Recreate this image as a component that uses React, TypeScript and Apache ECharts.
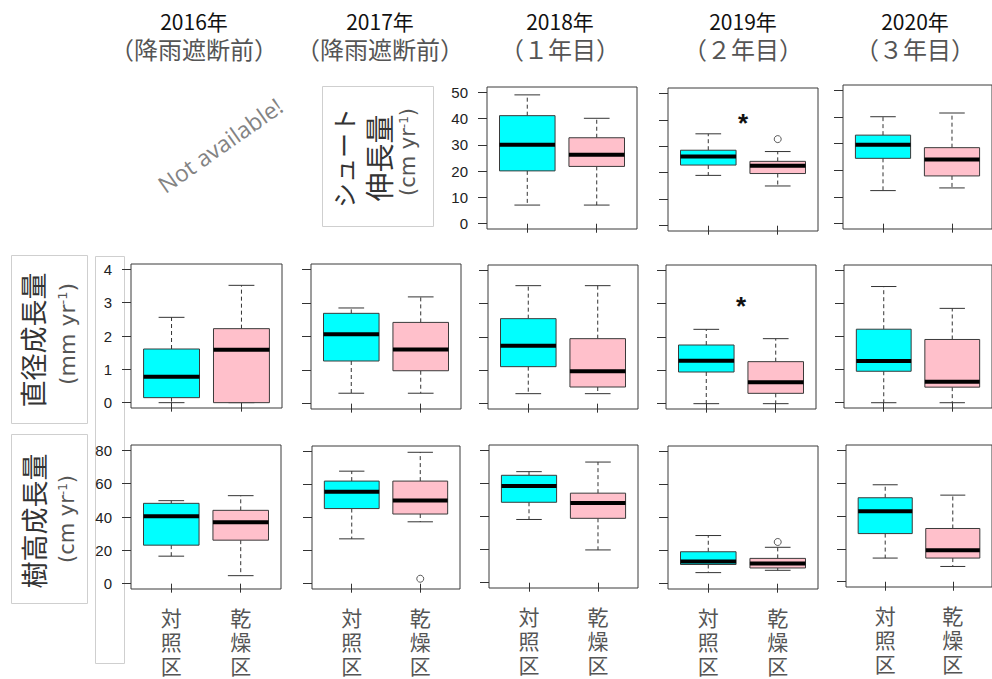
import React, { useEffect, useRef } from "react";
import * as echarts from "echarts";

// ---- categories / labels ----
const years = ["2016年", "2017年", "2018年", "2019年", "2020年"];
const phases = ["（降雨遮断前）", "（降雨遮断前）", "（１年目）", "（２年目）", "（３年目）"];
const groups = ["対照区", "乾燥区"];

// ---- box statistics per year: [lower whisker, Q1, median, Q3, upper whisker] ----
const shootControl = [null, null, [7.1, 20.1, 30.0, 41.1, 49.0], [19.0, 22.9, 26.1, 28.5, 34.7], [12.4, 24.5, 29.6, 33.2, 40.1]];
const shootDry = [null, null, [7.1, 21.8, 26.2, 32.7, 40.1], [15.0, 19.7, 22.6, 24.3, 28.0], [13.4, 17.9, 24.1, 28.5, 41.5]];
const diameterControl = [[0.0, 0.15, 0.78, 1.61, 2.56], [0.31, 1.27, 2.07, 2.69, 2.85], [0.30, 1.11, 1.74, 2.55, 3.54], [0.0, 0.95, 1.29, 1.76, 2.23], [0.0, 0.95, 1.26, 2.22, 3.51]];
const diameterDry = [[0.0, 0.0, 1.59, 2.22, 3.52], [0.31, 0.98, 1.61, 2.42, 3.18], [0.30, 0.50, 0.97, 1.95, 3.54], [0.0, 0.31, 0.64, 1.26, 1.95], [0.0, 0.47, 0.63, 1.91, 2.85]];
const heightControl = [[16.5, 23.1, 40.4, 48.2, 49.8], [27.1, 45.4, 55.6, 62.0, 68.0], [38.2, 48.6, 58.5, 64.9, 67.1], [6.7, 11.6, 13.4, 19.3, 29.1], [14.4, 29.3, 42.9, 51.1, 59.0]];
const heightDry = [[4.8, 26.1, 36.8, 44.0, 52.8], [37.4, 42.1, 50.3, 62.0, 79.4], [19.8, 38.9, 48.1, 54.1, 72.9], [8.1, 9.5, 12.2, 15.3, 22.0], [9.3, 14.4, 19.1, 32.4, 52.7]];

// ---- outliers (dry plots) ----
const shootDryOutliers = [[], [], [], [32.7], []];
const diameterDryOutliers = [[], [], [], [], []];
const heightDryOutliers = [[], [3.0], [], [25.2], []];

// ---- significance asterisks (y value) ----
const shootSignificance = [null, null, null, 41, null];
const diameterSignificance = [null, null, null, 3.1, null];
const heightSignificance = [null, null, null, null, null];

// ---- tick labels ----
const shootTicks = [0, 10, 20, 30, 40, 50];
const diameterTicks = [0, 1, 2, 3, 4];
const heightTicks = [0, 20, 40, 60, 80];

// ---- layout (pixels) ----
const panelRects = [
  [null, null, [487, 87, 150, 142], [668, 88, 150, 143], [843, 85, 152, 144]],
  [[131, 264, 151, 144], [311, 264, 150, 145], [488, 265, 150, 144], [666, 265, 150, 144], [844, 265, 152, 143]],
  [[131, 445, 150, 144], [312, 446, 148, 143], [489, 445, 149, 143], [668, 446, 150, 143], [846, 445, 152, 142]],
];
const titleX = [194, 380, 560, 743, 915];

const JP = "'Noto Sans CJK JP', 'Noto Sans', sans-serif";
const LAT = "'Liberation Sans', Arial, sans-serif";

export default function App() {
  const ref = useRef<HTMLDivElement>(null);
  useEffect(() => {
    if (!ref.current) return;
    const chart = echarts.init(ref.current, null, { renderer: "svg" });

    const rows = [
      { control: shootControl, dry: shootDry, out: shootDryOutliers, sig: shootSignificance, ticks: shootTicks, top: 50 },
      { control: diameterControl, dry: diameterDry, out: diameterDryOutliers, sig: diameterSignificance, ticks: diameterTicks, top: 4 },
      { control: heightControl, dry: heightDry, out: heightDryOutliers, sig: heightSignificance, ticks: heightTicks, top: 80 },
    ];

    const grid: any[] = [];
    const xAxis: any[] = [];
    const yAxis: any[] = [];
    const series: any[] = [];

    rows.forEach((row, r) => {
      let firstInRow = true;
      for (let c = 0; c < 5; c++) {
        const rect = panelRects[r][c];
        const ctl = row.control[c];
        const dry = row.dry[c];
        if (!rect || !ctl || !dry) continue;
        const gi = grid.length;
        grid.push({
          left: rect[0], top: rect[1], width: rect[2], height: rect[3],
          show: true, borderColor: "#3a3a3a", borderWidth: 1, backgroundColor: "transparent",
        });
        xAxis.push({
          gridIndex: gi, type: "value", min: 0.42, max: 2.58,
          axisLine: { show: false }, splitLine: { show: false },
          axisTick: { show: true, customValues: [1, 2], length: 9, lineStyle: { color: "#333" } },
          axisLabel: {
            show: r === 2, customValues: [1, 2], margin: 16,
            formatter: (v: number) => groups[Math.round(v) - 1].split("").join("\n"),
            fontSize: 21, lineHeight: 24, color: "#555", fontFamily: JP,
          },
        });
        const span = row.top;
        yAxis.push({
          gridIndex: gi, type: "value", min: -0.04 * span, max: 1.04 * span,
          axisLine: { show: false }, splitLine: { show: false },
          axisTick: { show: true, customValues: row.ticks, length: 9, lineStyle: { color: "#333" } },
          axisLabel: {
            show: firstInRow, customValues: row.ticks, margin: 19,
            fontSize: 15, color: "#222", fontFamily: LAT,
          },
        });
        firstInRow = false;

        series.push({
          type: "custom", xAxisIndex: gi, yAxisIndex: gi, silent: true,
          data: [[1, ...ctl], [2, ...dry]],
          encode: { x: 0, y: [1, 2, 3, 4, 5] },
          renderItem: (params: any, api: any) => {
            const x = api.value(0);
            const ys = [1, 2, 3, 4, 5].map((i) => api.coord([x, api.value(i)])[1]);
            const [lo, q1, med, q3, hi] = ys;
            const cx = api.coord([x, 0])[0];
            const half = api.size([0.8, 0])[0] / 2;
            const cap = api.size([0.37, 0])[0] / 2;
            const fill = params.dataIndex === 0 ? "#00FFFF" : "#FFC0CB";
            const wh = { stroke: "#333", lineWidth: 1, lineDash: [4, 3] };
            const sol = { stroke: "#333", lineWidth: 1 };
            return {
              type: "group",
              children: [
                { type: "line", shape: { x1: cx, y1: q3, x2: cx, y2: hi }, style: wh },
                { type: "line", shape: { x1: cx, y1: q1, x2: cx, y2: lo }, style: wh },
                { type: "line", shape: { x1: cx - cap, y1: hi, x2: cx + cap, y2: hi }, style: sol },
                { type: "line", shape: { x1: cx - cap, y1: lo, x2: cx + cap, y2: lo }, style: sol },
                { type: "rect", shape: { x: cx - half, y: q3, width: 2 * half, height: q1 - q3 }, style: { fill, stroke: "#3a3a3a", lineWidth: 1 } },
                { type: "line", shape: { x1: cx - half, y1: med, x2: cx + half, y2: med }, style: { stroke: "#000", lineWidth: 4 } },
              ],
            };
          },
        });

        const outs = row.out[c];
        if (outs && outs.length) {
          series.push({
            type: "scatter", xAxisIndex: gi, yAxisIndex: gi, silent: true,
            symbol: "circle", symbolSize: 7,
            itemStyle: { color: "#fff", borderColor: "#333", borderWidth: 1 },
            data: outs.map((v) => [2, v]),
          });
        }
        const s = row.sig[c];
        if (s !== null && s !== undefined) {
          series.push({
            type: "custom", xAxisIndex: gi, yAxisIndex: gi, silent: true,
            data: [[1.5, s]],
            renderItem: (_p: any, api: any) => {
              const p = api.coord([api.value(0), api.value(1)]);
              return {
                type: "text", x: p[0], y: p[1] + 6,
                style: { text: "*", fontSize: 26, fontWeight: "bold", fill: "#111", fontFamily: LAT, align: "center", verticalAlign: "middle" },
              };
            },
          });
        }
      }
    });

    const graphic: any[] = [];
    years.forEach((y, i) => {
      graphic.push({
        type: "text", x: titleX[i], y: 21,
        style: { text: y, font: `21px ${JP}`, fill: "#111", align: "center", verticalAlign: "middle" },
      });
      graphic.push({
        type: "text", x: titleX[i], y: 48,
        style: { text: phases[i], font: `24px ${JP}`, fill: "#555", align: "center", verticalAlign: "middle" },
      });
    });

    const boxStroke = { fill: "none", stroke: "#cfcfcf", lineWidth: 1 };
    graphic.push({ type: "rect", shape: { x: 322.5, y: 86.5, width: 111, height: 140 }, style: boxStroke });
    graphic.push({ type: "rect", shape: { x: 11.5, y: 255.5, width: 76, height: 168 }, style: boxStroke });
    graphic.push({ type: "rect", shape: { x: 11.5, y: 434.5, width: 76, height: 169 }, style: boxStroke });
    graphic.push({ type: "rect", shape: { x: 95.5, y: 256.5, width: 29, height: 407 }, style: boxStroke });

    const vText = (text: string, x: number, y: number, font: string, fill: string, rich?: any) => ({
      type: "text", x, y, rotation: Math.PI / 2,
      style: { text, font, fill, align: "center", verticalAlign: "middle", rich },
    });
    const supRich = (size: number) => ({ sup: { fontSize: size, fontFamily: "'DejaVu Sans', sans-serif", fill: "#555", verticalAlign: "top", lineHeight: size + 8 } });

    graphic.push(vText("シュート", 343, 158, `25px ${JP}`, "#333"));
    graphic.push(vText("伸長量", 378, 158, `29px ${JP}`, "#333"));
    graphic.push(vText("(cm yr{sup|-1})", 408, 152, `21px 'DejaVu Sans', sans-serif`, "#555", supRich(12)));

    graphic.push(vText("直径成長量", 32, 340, `27px ${JP}`, "#333"));
    graphic.push(vText("(mm yr{sup|-1})", 67, 334, `22px 'DejaVu Sans', sans-serif`, "#555", supRich(13)));

    graphic.push(vText("樹高成長量", 33, 521, `27px ${JP}`, "#333"));
    graphic.push(vText("(cm yr{sup|-1})", 67, 519, `21px 'DejaVu Sans', sans-serif`, "#555", supRich(12)));

    graphic.push({
      type: "text", x: 220, y: 145, rotation: (35 * Math.PI) / 180,
      style: { text: "Not available!", font: `23px 'Open Sans', 'Noto Sans', sans-serif`, fill: "#838383", align: "center", verticalAlign: "middle" },
    });

    chart.setOption({
      animation: false,
      grid, xAxis, yAxis, series,
      graphic: { elements: graphic },
    });
    return () => chart.dispose();
  }, []);

  return (
    <div
      ref={ref}
      style={{ position: "fixed", left: 0, top: 0, width: 992, height: 679, background: "#fff" }}
    />
  );
}
